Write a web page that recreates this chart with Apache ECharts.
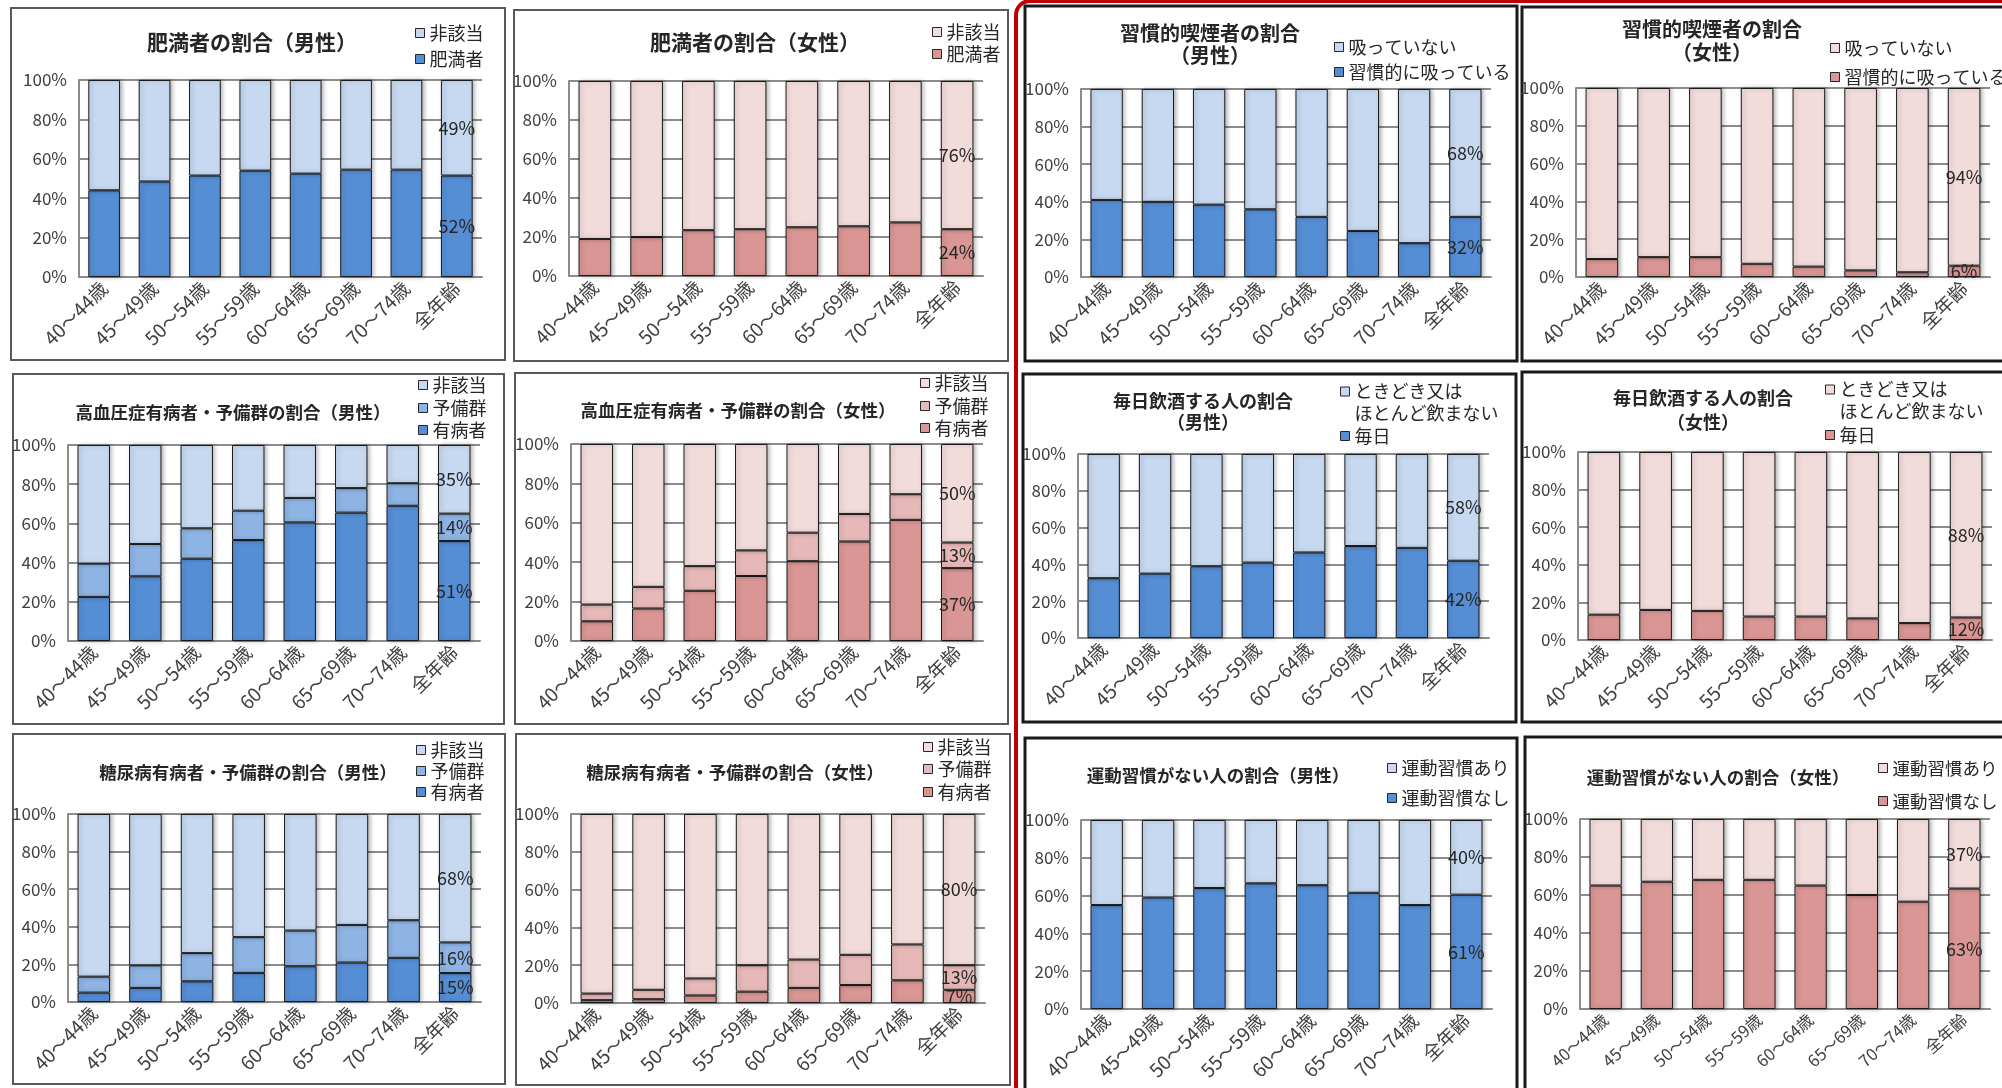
<!DOCTYPE html>
<html><head><meta charset="utf-8">
<script src="https://cdn.jsdelivr.net/npm/echarts@6/dist/echarts.min.js"></script>
<style>html,body{margin:0;padding:0;background:#fff}#c{width:2002px;height:1088px}</style>
</head><body><div id="c"></div>
<script>
// ---- categories ----
const categories = ['40～44歳', '45～49歳', '50～54歳', '55～59歳', '60～64歳', '65～69歳', '70～74歳', '全年齢'];

// ---- 肥満者の割合 ----
const obeseMale      = [44, 48.5, 51.5, 54, 52.5, 54.5, 54.5, 51.5];
const obeseMaleNon   = [56, 51.5, 48.5, 46, 47.5, 45.5, 45.5, 48.5];
const obeseFemale    = [19, 20, 23.5, 24, 25, 25.5, 27.5, 24];
const obeseFemaleNon = [81, 80, 76.5, 76, 75, 74.5, 72.5, 76];

// ---- 習慣的喫煙者の割合 ----
const smokeMale      = [41, 40, 38.5, 36, 32, 24.5, 18, 32];
const smokeMaleNon   = [59, 60, 61.5, 64, 68, 75.5, 82, 68];
const smokeFemale    = [9.5, 10.5, 10.5, 7, 5.5, 3.5, 2.5, 6];
const smokeFemaleNon = [90.5, 89.5, 89.5, 93, 94.5, 96.5, 97.5, 94];

// ---- 高血圧症 ----
const hypMaleDis   = [22.5, 33, 42, 51.5, 60.5, 65.5, 69, 51];
const hypMalePre   = [17, 16.5, 15.5, 15, 12.5, 12.5, 11.5, 14];
const hypMaleNon   = [60.5, 50.5, 42.5, 33.5, 27, 22, 19.5, 35];
const hypFemaleDis = [10, 16.5, 25.5, 33, 40.5, 50.5, 61.5, 37];
const hypFemalePre = [8.5, 11, 12.5, 13, 14.5, 14, 13, 13];
const hypFemaleNon = [81.5, 72.5, 62, 54, 45, 35.5, 25.5, 50];

// ---- 毎日飲酒 ----
const drinkMale      = [32.5, 35, 39, 41, 46.5, 50, 49, 42];
const drinkMaleNon   = [67.5, 65, 61, 59, 53.5, 50, 51, 58];
const drinkFemale    = [13.5, 16, 15.5, 12.5, 12.5, 11.5, 9, 12];
const drinkFemaleNon = [86.5, 84, 84.5, 87.5, 87.5, 88.5, 91, 88];

// ---- 糖尿病 ----
const diaMaleDis   = [5, 7.5, 11, 15.5, 19, 21, 23.5, 15.4];
const diaMalePre   = [8.5, 12, 15, 19, 19, 20, 20, 16.3];
const diaMaleNon   = [86.5, 80.5, 74, 65.5, 62, 59, 56.5, 68.3];
const diaFemaleDis = [1.5, 2, 4, 6, 8, 9.5, 12, 7];
const diaFemalePre = [3.5, 5, 9, 14, 15, 16, 19, 13];
const diaFemaleNon = [95, 93, 87, 80, 77, 74.5, 69, 80];

// ---- 運動習慣 ----
const exMaleNone   = [55, 59, 64, 66.5, 65.5, 61.5, 55, 60.5];
const exMaleHas    = [45, 41, 36, 33.5, 34.5, 38.5, 45, 39.5];
const exFemaleNone = [65, 67, 68, 68, 65, 60, 56.5, 63.4];
const exFemaleHas  = [35, 33, 32, 32, 35, 40, 43.5, 36.6];

const yTicks = { min: 0, max: 100, interval: 20 };

// ---- panels (series listed bottom -> top) ----
const panels = [
  { title: '肥満者の割合（男性）', g: 'm', series: [['肥満者', obeseMale, 'dark'], ['非該当', obeseMaleNon, 'light']] },
  { title: '肥満者の割合（女性）', g: 'f', series: [['肥満者', obeseFemale, 'dark'], ['非該当', obeseFemaleNon, 'light']] },
  { title: '習慣的喫煙者の割合\n（男性）', g: 'm', series: [['習慣的に吸っている', smokeMale, 'dark'], ['吸っていない', smokeMaleNon, 'light']] },
  { title: '習慣的喫煙者の割合\n（女性）', g: 'f', series: [['習慣的に吸っている', smokeFemale, 'dark'], ['吸っていない', smokeFemaleNon, 'light']] },
  { title: '高血圧症有病者・予備群の割合（男性）', g: 'm', series: [['有病者', hypMaleDis, 'dark'], ['予備群', hypMalePre, 'mid'], ['非該当', hypMaleNon, 'light']] },
  { title: '高血圧症有病者・予備群の割合（女性）', g: 'f', series: [['有病者', hypFemaleDis, 'dark'], ['予備群', hypFemalePre, 'mid'], ['非該当', hypFemaleNon, 'light']] },
  { title: '毎日飲酒する人の割合\n（男性）', g: 'm', series: [['毎日', drinkMale, 'dark'], ['ときどき又は\nほとんど飲まない', drinkMaleNon, 'light']] },
  { title: '毎日飲酒する人の割合\n（女性）', g: 'f', series: [['毎日', drinkFemale, 'dark'], ['ときどき又は\nほとんど飲まない', drinkFemaleNon, 'light']] },
  { title: '糖尿病有病者・予備群の割合（男性）', g: 'm', series: [['有病者', diaMaleDis, 'dark'], ['予備群', diaMalePre, 'mid'], ['非該当', diaMaleNon, 'light']] },
  { title: '糖尿病有病者・予備群の割合（女性）', g: 'f', series: [['有病者', diaFemaleDis, 'dark'], ['予備群', diaFemalePre, 'mid'], ['非該当', diaFemaleNon, 'light']] },
  { title: '運動習慣がない人の割合（男性）', g: 'm', series: [['運動習慣なし', exMaleNone, 'dark'], ['運動習慣あり', exMaleHas, 'light']] },
  { title: '運動習慣がない人の割合（女性）', g: 'f', series: [['運動習慣なし', exFemaleNone, 'dark'], ['運動習慣あり', exFemaleHas, 'light']] }
];

// ---- layout (pixels) ----
const GRAY = '#595959', BLACK = '#1a1a1a';
const layouts = [
  { frame: [11, 8, 494, 352], fc: GRAY, fw: 2, grid: [79, 80, 403, 197], t: [252, 42, 21, 24], lg: [415, [33, 59]] },
  { frame: [514, 10, 494, 351], fc: GRAY, fw: 2, grid: [569, 81, 414, 195], t: [755, 42, 21, 24], lg: [932, [32, 54]] },
  { frame: [1025, 6, 492, 355], fc: BLACK, fw: 3, grid: [1081, 89, 410, 188], t: [1210, 44, 20, 22], lg: [1334, [47, 72]] },
  { frame: [1522, 7, 520, 354], fc: BLACK, fw: 3, grid: [1576, 88, 414, 189], t: [1712, 41, 20, 23], lg: [1830, [48, 77]] },
  { frame: [13, 374, 491, 350], fc: GRAY, fw: 2, grid: [68, 445, 412, 196], t: [233, 412, 17.5, 22], lg: [418, [385, 408, 430]] },
  { frame: [515, 373, 493, 351], fc: GRAY, fw: 2, grid: [571, 444, 412, 197], t: [738, 410, 17.5, 22], lg: [920, [383, 406, 428]] },
  { frame: [1023, 374, 493, 348], fc: BLACK, fw: 3, grid: [1078, 454, 411, 184], t: [1203, 412, 18, 21], lg: [1340, [391, 436]] },
  { frame: [1522, 372, 520, 350], fc: BLACK, fw: 3, grid: [1578, 452, 414, 188], t: [1703, 410, 18, 24], lg: [1825, [389, 435]] },
  { frame: [13, 734, 492, 350], fc: GRAY, fw: 2, grid: [68, 814, 413, 188], t: [248, 772, 17.5, 22], lg: [416, [750, 771, 792]] },
  { frame: [516, 734, 494, 351], fc: GRAY, fw: 2, grid: [571, 814, 414, 189], t: [735, 772, 17.5, 22], lg: [923, [747, 769, 792]] },
  { frame: [1025, 738, 492, 380], fc: BLACK, fw: 3, grid: [1081, 820, 411, 189], t: [1218, 775, 17.5, 22], lg: [1387, [768, 798]] },
  { frame: [1525, 737, 520, 380], fc: BLACK, fw: 3, grid: [1580, 819, 410, 190], t: [1718, 777, 17.5, 22], lg: [1878, [768, 801]], xs: 16.5, xr: 42 }
];

const palette = {
  m: { dark: '#558ED5', mid: '#8EB4E3', light: '#C6D9F1' },
  f: { dark: '#D99694', mid: '#E6B9B8', light: '#F2DCDB' }
};
const NARROW = "'Liberation Sans Narrow','Noto Sans CJK JP',sans-serif";
const JP = "'Noto Sans CJK JP',sans-serif";
const AXIS_GRAY = '#8c8c8c';
// square drawn at the top of a tall box, so a two-line legend name keeps its marker on line one
const TALL_ICON = 'path://M0,6.5h9v9h-9zM0,0M9,44';

const option = {
  animation: false, backgroundColor: '#ffffff',
  title: [], legend: [], grid: [], xAxis: [], yAxis: [], series: [], graphic: []
};

panels.forEach((p, i) => {
  const L = layouts[i];
  option.grid.push({ left: L.grid[0], top: L.grid[1], width: L.grid[2], height: L.grid[3], outerBoundsMode: 'none', containLabel: false });
  option.xAxis.push({
    gridIndex: i, type: 'category', data: categories,
    axisTick: { show: false },
    axisLine: { lineStyle: { color: AXIS_GRAY, width: 2 } },
    axisLabel: { rotate: L.xr || 45, interval: 0, fontSize: L.xs || 19, color: '#404040', margin: 8, fontFamily: NARROW }
  });
  option.yAxis.push({
    gridIndex: i, type: 'value', min: yTicks.min, max: yTicks.max, interval: yTicks.interval,
    axisLine: { show: true, lineStyle: { color: AXIS_GRAY, width: 2 } },
    axisTick: { show: false },
    splitLine: { lineStyle: { color: AXIS_GRAY, width: 2 } },
    axisLabel: { formatter: '{value}%', fontSize: 17, color: '#404040', margin: 12, fontFamily: NARROW }
  });
  option.title.push({
    text: p.title, left: L.t[0], top: L.t[1], textAlign: 'center', textVerticalAlign: 'middle', padding: 0,
    textStyle: { fontSize: L.t[2], lineHeight: L.t[3], fontWeight: 'bold', color: '#262626', fontFamily: JP }
  });
  const names = [];
  p.series.forEach(([name, data, tone]) => {
    const sname = name + '|' + i;
    names.push([sname, tone]);
    option.series.push({
      type: 'bar', name: sname, data: data, stack: 'st' + i,
      xAxisIndex: i, yAxisIndex: i, barWidth: '63%',
      itemStyle: { color: palette[p.g][tone], borderColor: '#1a1a1a', borderWidth: 1,
        shadowColor: 'rgba(0,0,0,0.28)', shadowBlur: 4, shadowOffsetX: 2 },
      label: { show: true, position: 'inside', fontSize: 18, color: '#262626', fontFamily: NARROW,
        formatter: prm => prm.dataIndex === categories.length - 1 ? Math.round(prm.value) + '%' : '' },
      emphasis: { disabled: true }, silent: true
    });
  });
  names.reverse().forEach(([sname, tone], r) => {
    const twoLine = sname.indexOf('\n') >= 0;
    const fs = i === 11 ? 17.5 : 18;
    option.legend.push({
      left: L.lg[0], top: L.lg[1][r] - (twoLine ? 11 : 10), orient: 'vertical', padding: 0, itemGap: 0,
      itemWidth: 9, itemHeight: twoLine ? 44 : 9, icon: twoLine ? TALL_ICON : 'rect', selectedMode: false,
      data: [sname], formatter: n => n.split('|')[0],
      itemStyle: { borderColor: '#262626', borderWidth: 1 },
      textStyle: { fontSize: fs, lineHeight: twoLine ? 22 : 20, color: '#262626', fontFamily: JP }
    });
  });
  option.graphic.push({
    type: 'rect', silent: true, z: 0,
    shape: { x: L.frame[0], y: L.frame[1], width: L.frame[2], height: L.frame[3] },
    style: { fill: 'none', stroke: L.fc, lineWidth: L.fw }
  });
});

option.graphic.push({
  type: 'rect', silent: true, z: 10,
  shape: { x: 1016, y: 1, width: 1200, height: 1300, r: 14 },
  style: { fill: 'none', stroke: '#C00000', lineWidth: 4 }
});

const chart = echarts.init(document.getElementById('c'), null, { renderer: 'canvas' });
chart.setOption(option);
</script>
</body></html>
